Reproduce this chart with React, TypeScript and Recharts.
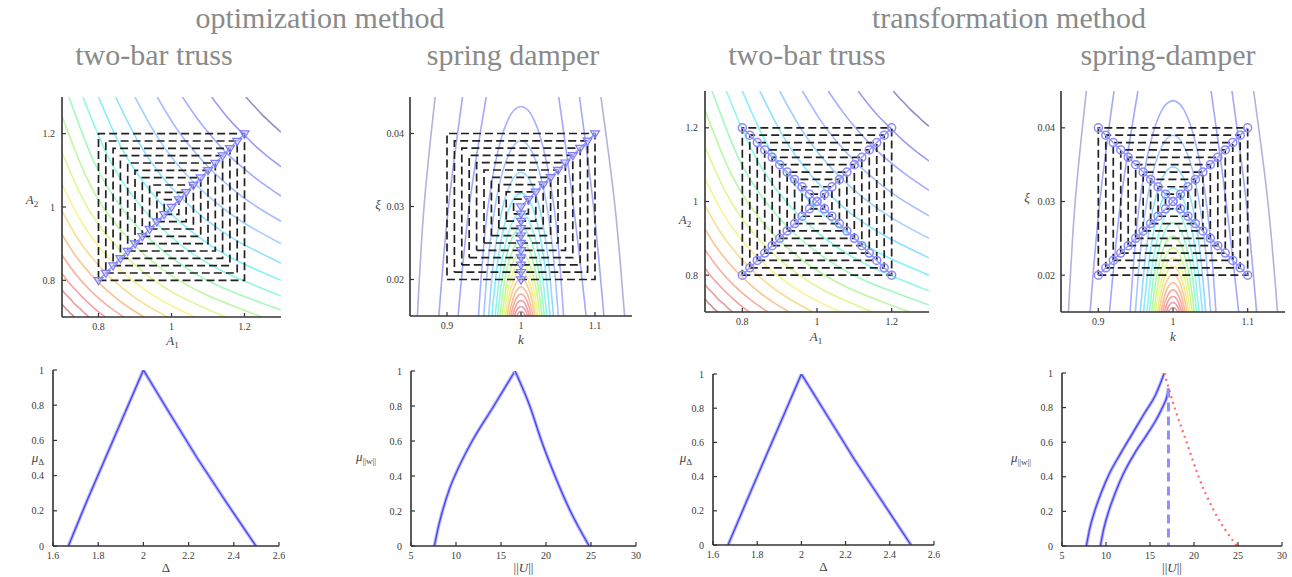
import React from 'react';
import { ComposedChart, Line, XAxis, YAxis, Label } from 'recharts';

type Pt = [number, number];
const SERIF = '"Liberation Serif", "Times New Roman", serif';

// ---------------- titles ----------------
const methodTitles = ['optimization method', 'transformation method'];
const problemTitles = ['two-bar truss', 'spring damper', 'two-bar truss', 'spring-damper'];

// ---------------- domains & ticks ----------------
const trussDomain: Pt = [0.7, 1.3];
const kDomain: Pt = [0.85, 1.15];
const xiDomain: Pt = [0.015, 0.045];
const deltaDomain: Pt = [1.6, 2.6];
const normDomain: Pt = [5, 30];
const muDomain: Pt = [0, 1];

const trussTicks = [0.8, 1, 1.2];
const kTicks = [0.9, 1, 1.1];
const xiTicks = [0.02, 0.03, 0.04];
const deltaTicks = [1.6, 1.8, 2, 2.2, 2.4, 2.6];
const normTicks = [5, 10, 15, 20, 25, 30];
const muTicks = [0, 0.2, 0.4, 0.6, 0.8, 1];

// ---------------- alpha-cut boxes ----------------
const trussCenter: Pt = [1, 1];
const trussHalf = [0.2, 0.18, 0.16, 0.14, 0.12, 0.1, 0.08, 0.06, 0.04, 0.02];
const springCenter: Pt = [1, 0.03];
const springHalfK = [0.1, 0.09, 0.08, 0.07, 0.06, 0.05, 0.04, 0.03, 0.02, 0.01];
const springHalfXi = [0.01, 0.009, 0.008, 0.007, 0.006, 0.005, 0.004, 0.003, 0.002, 0.001];

// ---------------- contour lines (two-bar truss objective) ----------------
const trussContours: Pt[][] = [
  [[1.204, 1.3], [1.219, 1.283], [1.235, 1.266], [1.25, 1.25], [1.266, 1.235], [1.283, 1.219], [1.3, 1.204]],
  [[1.11, 1.3], [1.139, 1.262], [1.168, 1.228], [1.198, 1.198], [1.228, 1.168], [1.262, 1.139], [1.3, 1.11]],
  [[1.03, 1.3], [1.07, 1.242], [1.11, 1.192], [1.149, 1.149], [1.192, 1.11], [1.242, 1.07], [1.3, 1.03]],
  [[0.961, 1.3], [1.009, 1.221], [1.057, 1.158], [1.105, 1.105], [1.158, 1.057], [1.221, 1.009], [1.3, 0.961]],
  [[0.9, 1.3], [0.955, 1.201], [1.009, 1.125], [1.064, 1.064], [1.125, 1.009], [1.201, 0.955], [1.3, 0.9]],
  [[0.847, 1.3], [0.907, 1.181], [0.966, 1.093], [1.026, 1.026], [1.093, 0.966], [1.181, 0.907], [1.3, 0.847]],
  [[0.8, 1.3], [0.863, 1.161], [0.927, 1.063], [0.99, 0.99], [1.063, 0.927], [1.161, 0.863], [1.3, 0.8]],
  [[0.757, 1.3], [0.824, 1.142], [0.89, 1.034], [0.957, 0.957], [1.034, 0.89], [1.142, 0.824], [1.3, 0.757]],
  [[0.719, 1.3], [0.788, 1.122], [0.857, 1.007], [0.926, 0.926], [1.007, 0.857], [1.122, 0.788], [1.3, 0.719]],
  [[0.7, 1.248], [0.766, 1.083], [0.831, 0.974], [0.897, 0.897], [0.974, 0.831], [1.083, 0.766], [1.248, 0.7]],
  [[0.7, 1.148], [0.757, 1.022], [0.813, 0.935], [0.87, 0.87], [0.935, 0.813], [1.022, 0.757], [1.148, 0.7]],
  [[0.7, 1.062], [0.748, 0.968], [0.796, 0.898], [0.844, 0.844], [0.898, 0.796], [0.968, 0.748], [1.062, 0.7]],
  [[0.7, 0.989], [0.74, 0.919], [0.78, 0.864], [0.82, 0.82], [0.864, 0.78], [0.919, 0.74], [0.989, 0.7]],
  [[0.7, 0.925], [0.732, 0.874], [0.765, 0.832], [0.797, 0.797], [0.832, 0.765], [0.874, 0.732], [0.925, 0.7]],
  [[0.7, 0.869], [0.725, 0.833], [0.75, 0.802], [0.775, 0.775], [0.802, 0.75], [0.833, 0.725], [0.869, 0.7]],
  [[0.7, 0.819], [0.718, 0.795], [0.737, 0.774], [0.755, 0.755], [0.774, 0.737], [0.795, 0.718], [0.819, 0.7]],
  [[0.7, 0.774], [0.712, 0.76], [0.724, 0.748], [0.735, 0.735], [0.748, 0.724], [0.76, 0.712], [0.774, 0.7]],
  [[0.7, 0.735], [0.706, 0.728], [0.711, 0.722], [0.717, 0.717], [0.722, 0.711], [0.728, 0.706], [0.735, 0.7]],
];
const trussColors = [
  '#9090c8', '#9c9cf4', '#a4acff', '#a4bcff', '#a0d0ff', '#90e0ff', '#84f0ff', '#90f8e4', '#a4f8c0',
  '#bcf8a4', '#dcf894', '#f8f490', '#f8dc90', '#f8c490', '#f8b09c', '#f8a0a0', '#e89c9c', '#c89494',
];

// ---------------- contour lines (spring-damper objective) ----------------
const springContours: Pt[][] = [
  [[0.86, 0.015], [0.869, 0.03], [0.884, 0.045]],
  [[0.889, 0.015], [0.902, 0.03], [0.921, 0.045]],
  [[0.915, 0.015], [0.93, 0.03], [0.953, 0.045]],
  [[1.051, 0.045], [1.071, 0.03], [1.088, 0.015]],
  [[1.079, 0.045], [1.098, 0.03], [1.112, 0.015]],
  [[1.108, 0.045], [1.127, 0.03], [1.14, 0.015]],
  [[0.9425, 0.015], [0.9515, 0.0266], [0.965, 0.0358], [0.9816, 0.0417], [1, 0.0437], [1.0184, 0.0417], [1.035, 0.0358], [1.0485, 0.0266], [1.0575, 0.015]],
  [[0.9496, 0.015], [0.9579, 0.0248], [0.9697, 0.0325], [0.9842, 0.0373], [1, 0.039], [1.0158, 0.0373], [1.0303, 0.0325], [1.0421, 0.0248], [1.0504, 0.015]],
  [[0.9562, 0.015], [0.9637, 0.0231], [0.9741, 0.0294], [0.9865, 0.0333], [1, 0.0347], [1.0135, 0.0333], [1.0259, 0.0294], [1.0363, 0.0231], [1.0438, 0.015]],
  [[0.9607, 0.015], [0.9678, 0.0219], [0.9771, 0.0273], [0.9881, 0.0307], [1, 0.0318], [1.0119, 0.0307], [1.0229, 0.0273], [1.0322, 0.0219], [1.0393, 0.015]],
  [[0.9651, 0.015], [0.9716, 0.0209], [0.98, 0.0253], [0.9896, 0.0281], [1, 0.0291], [1.0104, 0.0281], [1.02, 0.0253], [1.0284, 0.0209], [1.0349, 0.015]],
  [[0.9684, 0.015], [0.9745, 0.0201], [0.9821, 0.0239], [0.9908, 0.0263], [1, 0.0271], [1.0092, 0.0263], [1.0179, 0.0239], [1.0255, 0.0201], [1.0316, 0.015]],
  [[0.9715, 0.015], [0.9771, 0.0193], [0.984, 0.0226], [0.9918, 0.0246], [1, 0.0253], [1.0082, 0.0246], [1.016, 0.0226], [1.0229, 0.0193], [1.0285, 0.015]],
  [[0.9743, 0.015], [0.9796, 0.0187], [0.9858, 0.0214], [0.9927, 0.0231], [1, 0.0237], [1.0073, 0.0231], [1.0142, 0.0214], [1.0204, 0.0187], [1.0257, 0.015]],
  [[0.9767, 0.015], [0.9816, 0.0181], [0.9873, 0.0205], [0.9935, 0.0219], [1, 0.0224], [1.0065, 0.0219], [1.0127, 0.0205], [1.0184, 0.0181], [1.0233, 0.015]],
  [[0.979, 0.015], [0.9835, 0.0176], [0.9887, 0.0196], [0.9942, 0.0208], [1, 0.0212], [1.0058, 0.0208], [1.0113, 0.0196], [1.0165, 0.0176], [1.021, 0.015]],
  [[0.9813, 0.015], [0.9854, 0.0172], [0.99, 0.0188], [0.9949, 0.0198], [1, 0.0201], [1.0051, 0.0198], [1.01, 0.0188], [1.0146, 0.0172], [1.0187, 0.015]],
  [[0.9837, 0.015], [0.9874, 0.0167], [0.9914, 0.018], [0.9956, 0.0187], [1, 0.019], [1.0044, 0.0187], [1.0086, 0.018], [1.0126, 0.0167], [1.0163, 0.015]],
  [[0.9861, 0.015], [0.9893, 0.0163], [0.9927, 0.0172], [0.9963, 0.0178], [1, 0.018], [1.0037, 0.0178], [1.0073, 0.0172], [1.0107, 0.0163], [1.0139, 0.015]],
  [[0.9885, 0.015], [0.9912, 0.0159], [0.9941, 0.0166], [0.997, 0.017], [1, 0.0171], [1.003, 0.017], [1.0059, 0.0166], [1.0088, 0.0159], [1.0115, 0.015]],
  [[0.9911, 0.015], [0.9932, 0.0156], [0.9954, 0.016], [0.9977, 0.0162], [1, 0.0163], [1.0023, 0.0162], [1.0046, 0.016], [1.0068, 0.0156], [1.0089, 0.015]],
  [[0.994, 0.015], [0.997, 0.0155], [1, 0.0156], [1.003, 0.0155], [1.006, 0.015]],
];
const springColors = [
  '#b2b2dc', '#a8a8ee', '#a4a8fc', '#a4a8fc', '#a8a8ee', '#b2b2dc',
  '#a8b0ff', '#a8c4ff', '#98d8ff', '#88eaff', '#90f6f0', '#9cf8cc', '#b4f8a8', '#d0f898',
  '#ecf890', '#f8e890', '#f8d090', '#f8bc98', '#f8aaa0', '#f4a0a0', '#e8a0a8', '#e0a0a8',
];

// ---------------- membership functions ----------------
const optDeltaCurve: Pt[] = [[1.668, 0], [1.748, 0.25], [1.832, 0.5], [1.916, 0.75], [2, 1], [2.118, 0.75], [2.238, 0.5], [2.366, 0.25], [2.498, 0]];
const optNormLeft: Pt[] = [[7.6, 0], [8.0, 0.1], [8.5, 0.2], [9.3, 0.33], [10.3, 0.45], [11.8, 0.6], [14.2, 0.8], [16.56, 1]];
const optNormRight: Pt[] = [[16.56, 1], [18.2, 0.8], [19.5, 0.6], [21.0, 0.4], [22.7, 0.2], [24.8, 0]];
const trDeltaCurve: Pt[] = [[1.668, 0], [1.75, 0.25], [1.833, 0.5], [1.917, 0.75], [2, 1], [2.12, 0.75], [2.24, 0.5], [2.368, 0.25], [2.496, 0]];
const trNormOuter: Pt[] = [[7.77, 0], [8.15, 0.1], [8.7, 0.2], [9.4, 0.3], [10.4, 0.42], [11.6, 0.53], [13.0, 0.65], [14.4, 0.77], [15.6, 0.87], [16.63, 1]];
const trNormInner: Pt[] = [[9.36, 0], [9.75, 0.1], [10.3, 0.2], [11.0, 0.3], [12.0, 0.42], [13.3, 0.54], [14.6, 0.64], [15.7, 0.73], [16.5, 0.81], [16.95, 0.87], [17.1, 0.91]];
const trNormDrop: Pt[] = [[17.1, 0.91], [17.1, 0]];
const trNormRight: Pt[] = [[16.63, 1], [17.88, 0.787], [19.2, 0.594], [20.53, 0.4], [22.23, 0.207], [24.89, 0]];

// ---------------- helpers ----------------
const toXY = (pts: Pt[]) => pts.map(([x, y]) => ({ x, y }));
const boxOf = (c: Pt, hx: number, hy: number): Pt[] => [
  [c[0] - hx, c[1] - hy], [c[0] + hx, c[1] - hy], [c[0] + hx, c[1] + hy], [c[0] - hx, c[1] + hy], [c[0] - hx, c[1] - hy],
];
const trussBoxes = trussHalf.map((h) => boxOf(trussCenter, h, h));
const springBoxes = springHalfK.map((h, i) => boxOf(springCenter, h, springHalfXi[i]));

const trussOptPath: Pt[] = [
  ...trussHalf.map((h): Pt => [trussCenter[0] - h, trussCenter[1] - h]),
  trussCenter,
  ...[...trussHalf].reverse().map((h): Pt => [trussCenter[0] + h, trussCenter[1] + h]),
];
const springOptPath: Pt[] = [
  ...springHalfXi.map((h): Pt => [springCenter[0], springCenter[1] - h]),
  springCenter,
  ...[...springHalfK].reverse().map((h, i): Pt => [springCenter[0] + h, springCenter[1] + [...springHalfXi].reverse()[i]]),
];
const diagOf = (c: Pt, hx: number[], hy: number[], sgn: number): Pt[] => [
  ...hx.map((h, i): Pt => [c[0] - h, c[1] - sgn * hy[i]]),
  c,
  ...[...hx].reverse().map((h, i): Pt => [c[0] + h, c[1] + sgn * [...hy].reverse()[i]]),
];
const trussTrDiag = diagOf(trussCenter, trussHalf, trussHalf, 1);
const trussTrAnti = diagOf(trussCenter, trussHalf, trussHalf, -1);
const springTrDiag = diagOf(springCenter, springHalfK, springHalfXi, 1);
const springTrAnti = diagOf(springCenter, springHalfK, springHalfXi, -1);

// ---------------- axis ticks (MATLAB style, inward) ----------------
const TL = 4;
const AX = '#333';
const axisStyle = { stroke: AX, strokeWidth: 1.6 };
const tickText = { fontFamily: SERIF, fontSize: 10, fill: '#3a3a3a' };

const bottomTick = (gap: number) => (p: any) => (
  <g>
    <line x1={p.x} y1={p.y} x2={p.x} y2={p.y - TL} stroke={AX} strokeWidth={1.2} />
    <text x={p.x} y={p.y + gap} textAnchor="middle" {...tickText}>{p.payload.value}</text>
  </g>
);
const leftTick = (gap: number) => (p: any) => (
  <g>
    <line x1={p.x} y1={p.y} x2={p.x + TL} y2={p.y} stroke={AX} strokeWidth={1.2} />
    <text x={p.x - gap} y={p.y + 3.5} textAnchor="end" {...tickText}>{p.payload.value}</text>
  </g>
);
const topTick = (p: any) => <line x1={p.x} y1={p.y} x2={p.x} y2={p.y + TL} stroke={AX} strokeWidth={1.2} />;
const rightTick = (p: any) => <line x1={p.x} y1={p.y} x2={p.x - TL} y2={p.y} stroke={AX} strokeWidth={1.2} />;

// ---------------- axis labels ----------------
type Seg = { t: string; sub?: boolean; it?: boolean };
const makeLabel = (segs: Seg[], axis: 'x' | 'y', dx: number, dy: number) => (props: any) => {
  const vb = props.viewBox || { x: 0, y: 0, width: 0, height: 0 };
  const cx = axis === 'x' ? vb.x + vb.width / 2 + dx : vb.x + vb.width + dx;
  const cy = axis === 'x' ? vb.y + dy : vb.y + vb.height / 2 + dy;
  let shift = 0;
  return (
    <text x={cx} y={cy} textAnchor="middle" fontFamily={SERIF} fontSize={13} fill="#444">
      {segs.map((s, i) => {
        const target = s.sub ? 3 : 0;
        const d = target - shift;
        shift = target;
        return (
          <tspan key={i} dy={d} fontSize={s.sub ? 9 : 13} fontStyle={s.it ? 'italic' : 'normal'}>
            {s.t}
          </tspan>
        );
      })}
    </text>
  );
};
const A1: Seg[] = [{ t: 'A', it: true }, { t: '1', sub: true }];
const A2: Seg[] = [{ t: 'A', it: true }, { t: '2', sub: true }];
const K: Seg[] = [{ t: 'k', it: true }];
const XI: Seg[] = [{ t: 'ξ', it: true }];
const DELTA: Seg[] = [{ t: 'Δ' }];
const MU_DELTA: Seg[] = [{ t: 'μ', it: true }, { t: 'Δ', sub: true }];
const NORM_U: Seg[] = [{ t: '||' }, { t: 'U', it: true }, { t: '||' }];
const MU_NORM: Seg[] = [{ t: 'μ', it: true }, { t: '||w||', sub: true }];

// ---------------- panel ----------------
type Frame = { x: number; y: number; w: number; h: number; bh: number };
const LW = 60, MT = 6, MR = 6;

type PanelProps = {
  frame: Frame; xDomain: Pt; yDomain: Pt; xTicks: number[]; yTicks: number[];
  xLabel: (p: any) => any; yLabel: (p: any) => any; gapX: number; gapY: number; children: any;
};
function Panel({ frame, xDomain, yDomain, xTicks, yTicks, xLabel, yLabel, gapX, gapY, children }: PanelProps) {
  return (
    <div style={{ position: 'absolute', left: frame.x - LW, top: frame.y - MT }}>
      <ComposedChart width={frame.w + LW + MR} height={frame.h + MT + frame.bh} margin={{ top: MT, right: MR, left: 0, bottom: 0 }}>
        <XAxis dataKey="x" type="number" domain={xDomain} ticks={xTicks} allowDataOverflow interval={0}
          height={frame.bh} tickSize={0} tickMargin={0} axisLine={axisStyle} tickLine={false} tick={bottomTick(gapX)}>
          <Label content={xLabel} />
        </XAxis>
        <XAxis xAxisId="top" orientation="top" type="number" domain={xDomain} ticks={xTicks} allowDataOverflow interval={0}
          height={0} tickSize={0} tickMargin={0} axisLine={axisStyle} tickLine={false} tick={topTick} />
        <YAxis type="number" domain={yDomain} ticks={yTicks} allowDataOverflow interval={0}
          width={LW} tickSize={0} tickMargin={0} axisLine={axisStyle} tickLine={false} tick={leftTick(gapY)}>
          <Label content={yLabel} />
        </YAxis>
        <YAxis yAxisId="right" orientation="right" type="number" domain={yDomain} ticks={yTicks} allowDataOverflow interval={0}
          width={0} tickSize={0} tickMargin={0} axisLine={axisStyle} tickLine={false} tick={rightTick} />
        {children}
      </ComposedChart>
    </div>
  );
}

const triDot = (p: any) => {
  const { cx, cy, index } = p;
  if (cx == null || cy == null) return <g key={'t' + index} />;
  const s = 4.5;
  return (
    <path key={'t' + index} d={`M${cx - s},${cy - s * 0.6} L${cx + s},${cy - s * 0.6} L${cx},${cy + s} Z`}
      fill="#c8c8ff" fillOpacity={0.45} stroke="#7c7cff" strokeWidth={1.2} />
  );
};
const circDot = { r: 4, stroke: '#8a8aff', strokeWidth: 1.5, fill: 'none' };

const contourLines = (sets: Pt[][], colors: string[], prefix: string) =>
  sets.map((c, i) => (
    <Line key={prefix + i} data={toXY(c)} dataKey="y" type="natural" stroke={colors[i]} strokeWidth={1.6}
      dot={false} isAnimationActive={false} />
  ));
const boxLines = (boxes: Pt[][], prefix: string) =>
  boxes.map((b, i) => (
    <Line key={prefix + i} data={toXY(b)} dataKey="y" type="linear" stroke="#222" strokeWidth={1.7}
      strokeDasharray="8 4" dot={false} isAnimationActive={false} />
  ));
const muLine = (pts: Pt[], key: string, curve: 'linear' | 'monotone' = 'linear') => [
  <Line key={key + 'h'} data={toXY(pts)} dataKey="y" type={curve} stroke="#b4b4ff" strokeWidth={3.4} dot={false} isAnimationActive={false} />,
  <Line key={key + 'c'} data={toXY(pts)} dataKey="y" type={curve} stroke="#4646f0" strokeWidth={1.3} dot={false} isAnimationActive={false} />,
];

const F1: Frame = { x: 62, y: 97, w: 219, h: 220, bh: 38 };
const F2: Frame = { x: 410, y: 97, w: 222, h: 219, bh: 38 };
const F3: Frame = { x: 705, y: 91, w: 224, h: 221, bh: 40 };
const F4: Frame = { x: 1061, y: 91, w: 224, h: 221, bh: 40 };
const F5: Frame = { x: 53, y: 370, w: 226, h: 176, bh: 30 };
const F6: Frame = { x: 411, y: 371, w: 225, h: 175, bh: 30 };
const F7: Frame = { x: 713, y: 374, w: 221, h: 171, bh: 31 };
const F8: Frame = { x: 1062, y: 373, w: 220, h: 173, bh: 30 };

export default function App() {
  return (
    <div style={{ position: 'absolute', left: 0, top: 0, width: 1292, height: 577, background: '#fff', overflow: 'hidden' }}>
      <svg width={1292} height={80} style={{ position: 'absolute', left: 0, top: 0 }}>
        <g fontFamily={SERIF} fontSize={30} fill="#8a8a8a" textAnchor="middle">
          <text x={320} y={28}>{methodTitles[0]}</text>
          <text x={1009} y={28}>{methodTitles[1]}</text>
          <text x={154} y={65}>{problemTitles[0]}</text>
          <text x={513} y={65}>{problemTitles[1]}</text>
          <text x={807} y={65}>{problemTitles[2]}</text>
          <text x={1168} y={65}>{problemTitles[3]}</text>
        </g>
      </svg>

      <Panel frame={F1} xDomain={trussDomain} yDomain={trussDomain} xTicks={trussTicks} yTicks={trussTicks}
        xLabel={makeLabel(A1, 'x', 1, 28)} yLabel={makeLabel(A2, 'y', -30, -3)} gapX={13} gapY={7}>
        {contourLines(trussContours, trussColors, 'tc')}
        {boxLines(trussBoxes, 'tb')}
        <Line data={toXY(trussOptPath)} dataKey="y" type="linear" stroke="#9a9aff" strokeWidth={1.5} dot={triDot} isAnimationActive={false} />
      </Panel>

      <Panel frame={F2} xDomain={kDomain} yDomain={xiDomain} xTicks={kTicks} yTicks={xiTicks}
        xLabel={makeLabel(K, 'x', 0, 28)} yLabel={makeLabel(XI, 'y', -32, 2)} gapX={13} gapY={6}>
        {contourLines(springContours, springColors, 'sc')}
        {boxLines(springBoxes, 'sb')}
        <Line data={toXY(springOptPath)} dataKey="y" type="linear" stroke="#9a9aff" strokeWidth={1.5} dot={triDot} isAnimationActive={false} />
      </Panel>

      <Panel frame={F3} xDomain={trussDomain} yDomain={trussDomain} xTicks={trussTicks} yTicks={trussTicks}
        xLabel={makeLabel(A1, 'x', -1, 29)} yLabel={makeLabel(A2, 'y', -20, 22)} gapX={13} gapY={7}>
        {contourLines(trussContours, trussColors, 'tc')}
        {boxLines(trussBoxes, 'tb')}
        <Line data={toXY(trussTrDiag)} dataKey="y" type="linear" stroke="#9a9aff" strokeWidth={1.5} dot={circDot} isAnimationActive={false} />
        <Line data={toXY(trussTrAnti)} dataKey="y" type="linear" stroke="#9a9aff" strokeWidth={1.5} dot={circDot} isAnimationActive={false} />
      </Panel>

      <Panel frame={F4} xDomain={kDomain} yDomain={xiDomain} xTicks={kTicks} yTicks={xiTicks}
        xLabel={makeLabel(K, 'x', 0, 29)} yLabel={makeLabel(XI, 'y', -34, 0)} gapX={13} gapY={6}>
        {contourLines(springContours, springColors, 'sc')}
        {boxLines(springBoxes, 'sb')}
        <Line data={toXY(springTrDiag)} dataKey="y" type="linear" stroke="#9a9aff" strokeWidth={1.5} dot={circDot} isAnimationActive={false} />
        <Line data={toXY(springTrAnti)} dataKey="y" type="linear" stroke="#9a9aff" strokeWidth={1.5} dot={circDot} isAnimationActive={false} />
      </Panel>

      <Panel frame={F5} xDomain={deltaDomain} yDomain={muDomain} xTicks={deltaTicks} yTicks={muTicks}
        xLabel={makeLabel(DELTA, 'x', 0, 26)} yLabel={makeLabel(MU_DELTA, 'y', -15, 4)} gapX={13} gapY={9}>
        {muLine(optDeltaCurve, 'od')}
      </Panel>

      <Panel frame={F6} xDomain={normDomain} yDomain={muDomain} xTicks={normTicks} yTicks={muTicks}
        xLabel={makeLabel(NORM_U, 'x', 0, 26)} yLabel={makeLabel(MU_NORM, 'y', -45, 2)} gapX={13} gapY={9}>
        {muLine(optNormLeft, 'onl', 'monotone')}
        {muLine(optNormRight, 'onr', 'monotone')}
      </Panel>

      <Panel frame={F7} xDomain={deltaDomain} yDomain={muDomain} xTicks={deltaTicks} yTicks={muTicks}
        xLabel={makeLabel(DELTA, 'x', 0, 26)} yLabel={makeLabel(MU_DELTA, 'y', -27, 2)} gapX={13} gapY={9}>
        {muLine(trDeltaCurve, 'td')}
      </Panel>

      <Panel frame={F8} xDomain={normDomain} yDomain={muDomain} xTicks={normTicks} yTicks={muTicks}
        xLabel={makeLabel(NORM_U, 'x', 0, 26)} yLabel={makeLabel(MU_NORM, 'y', -41, 2)} gapX={13} gapY={9}>
        {muLine(trNormOuter, 'no', 'monotone')}
        {muLine(trNormInner, 'ni', 'monotone')}
        <Line data={toXY(trNormDrop)} dataKey="y" type="linear" stroke="#8f8fff" strokeWidth={3} strokeDasharray="9 5" dot={false} isAnimationActive={false} />
        <Line data={toXY(trNormRight)} dataKey="y" type="monotone" stroke="#ff6a6a" strokeWidth={2.2} strokeDasharray="2 4" dot={false} isAnimationActive={false} />
      </Panel>
    </div>
  );
}
